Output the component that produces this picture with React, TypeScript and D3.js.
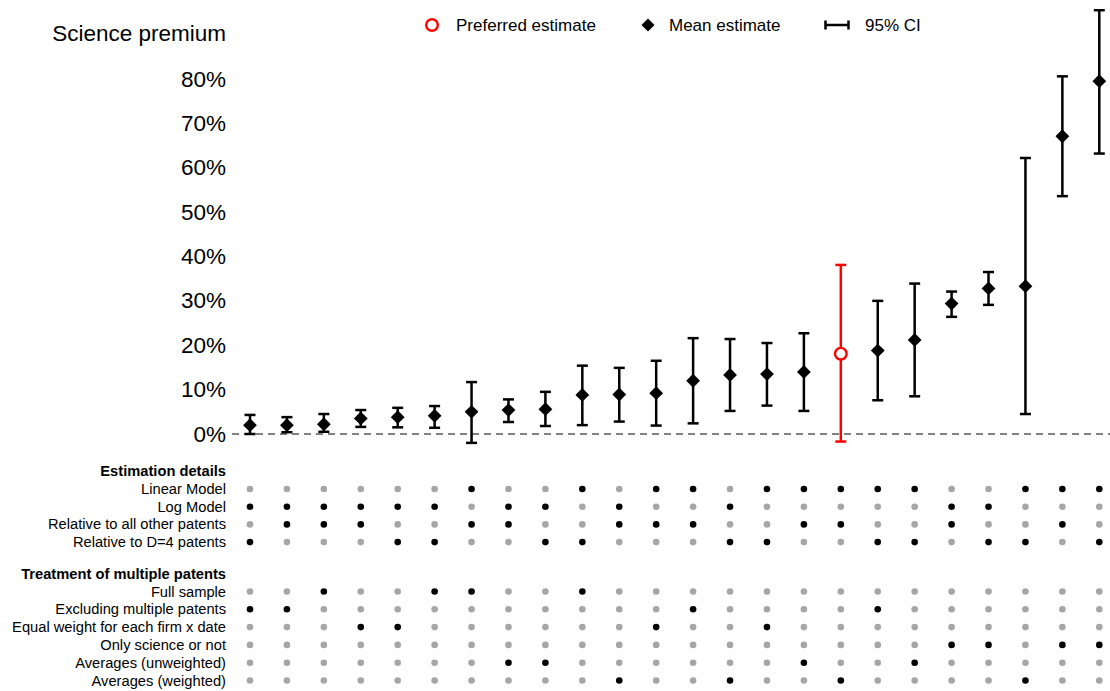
import React from "react";
import * as d3 from "d3";

// ---- Data (percent) ----
const meanEst = [2.0, 2.0, 2.2, 3.5, 3.8, 4.1, 5.0, 5.4, 5.6, 8.8, 8.9, 9.2, 12.0, 13.3, 13.5, 14.0, 18.1, 18.8, 21.2, 29.4, 32.8, 33.3, 67.1, 79.5];
const ciLow = [0.0, 0.4, 0.5, 1.6, 1.5, 1.4, -2.0, 2.7, 1.8, 2.0, 2.8, 1.9, 2.4, 5.2, 6.4, 5.2, -1.7, 7.6, 8.5, 26.4, 29.1, 4.5, 53.6, 63.2];
const ciHigh = [4.3, 3.8, 4.5, 5.4, 5.9, 6.3, 11.7, 7.8, 9.5, 15.4, 14.9, 16.5, 21.6, 21.4, 20.5, 22.7, 38.1, 30.0, 33.9, 32.1, 36.5, 62.2, 80.6, 95.5];
const preferredIndex = 16;
const yTicks = [0, 10, 20, 30, 40, 50, 60, 70, 80];

const estimationLabels = ["Linear Model", "Log Model", "Relative to all other patents", "Relative to D=4 patents"];
const estimationFlags = [
  "000000100101101111100111",
  "111111011010010000011000",
  "011100110011100110010010",
  "100011001100011001101101",
];
const treatmentLabels = [
  "Full sample",
  "Excluding multiple patents",
  "Equal weight for each firm x date",
  "Only science or not",
  "Averages (unweighted)",
  "Averages (weighted)",
];
const treatmentFlags = [
  "001001100100000000000000",
  "110000000000100001000000",
  "000110000001001000000000",
  "000000000000000000011011",
  "000000011000000100100000",
  "000000000010010010000100",
];

const FONT = "'Liberation Sans', Arial, Helvetica, sans-serif";

export default function App() {
  const W = 1110;
  const H = 691;
  const n = meanEst.length;
  const x = d3.scaleLinear().domain([0, n - 1]).range([250, 1099.3]);
  const y = d3.scaleLinear().domain([0, 80]).range([434, 79]);
  const labelX = 226;
  const capW = 5.5;

  const estRowY = (i: number) => 489 + i * 17.7;
  const treatRowY = (i: number) => 591.5 + i * 17.8;

  return (
    <svg width={W} height={H} style={{ position: "absolute", left: 0, top: 0, background: "#fff" }} fontFamily={FONT}>
      {/* Title */}
      <text x={labelX} y={33} textAnchor="end" dominantBaseline="central" fontSize={22.5} fill="#000">
        Science premium
      </text>

      {/* Legend */}
      <circle cx={432} cy={25} r={5.8} fill="none" stroke="#ff0000" strokeWidth={2.4} />
      <text x={456} y={25} dominantBaseline="central" fontSize={17} fill="#000">Preferred estimate</text>
      <path d={d3.symbol().type(d3.symbolSquare).size(85)()!} transform="translate(648,25) rotate(45)" fill="#000" />
      <text x={669} y={25} dominantBaseline="central" fontSize={17} fill="#000">Mean estimate</text>
      <line x1={825} x2={849} y1={25} y2={25} stroke="#000" strokeWidth={2.5} />
      <line x1={825.5} x2={825.5} y1={20.5} y2={29.5} stroke="#000" strokeWidth={2.5} />
      <line x1={848.5} x2={848.5} y1={20.5} y2={29.5} stroke="#000" strokeWidth={2.5} />
      <text x={865} y={25} dominantBaseline="central" fontSize={17} fill="#000">95% CI</text>

      {/* Y tick labels */}
      {yTicks.map((t) => (
        <text key={t} x={labelX} y={y(t)} textAnchor="end" dominantBaseline="central" fontSize={22.5} fill="#000">
          {t}%
        </text>
      ))}

      {/* Zero line */}
      <line x1={232} x2={W} y1={y(0)} y2={y(0)} stroke="#808080" strokeWidth={2} strokeDasharray="7,5" />

      {/* Error bars and points */}
      {meanEst.map((m, i) => {
        const cx = x(i);
        const col = i === preferredIndex ? "#ff0000" : "#000";
        return (
          <g key={i}>
            <line x1={cx} x2={cx} y1={y(ciLow[i])} y2={y(ciHigh[i])} stroke={col} strokeWidth={2.5} />
            <line x1={cx - capW} x2={cx + capW} y1={y(ciLow[i])} y2={y(ciLow[i])} stroke={col} strokeWidth={2.5} />
            <line x1={cx - capW} x2={cx + capW} y1={y(ciHigh[i])} y2={y(ciHigh[i])} stroke={col} strokeWidth={2.5} />
            {i === preferredIndex ? (
              <circle cx={cx} cy={y(m)} r={5.8} fill="#fff" stroke="#ff0000" strokeWidth={2.4} />
            ) : (
              <path d={d3.symbol().type(d3.symbolSquare).size(95)()!} transform={`translate(${cx},${y(m)}) rotate(45)`} fill="#000" />
            )}
          </g>
        );
      })}

      {/* Estimation details matrix */}
      <text x={labelX} y={470.5} textAnchor="end" dominantBaseline="central" fontSize={14.7} fontWeight="bold" fill="#000">
        Estimation details
      </text>
      {estimationLabels.map((lab, r) => (
        <g key={lab}>
          <text x={labelX} y={estRowY(r)} textAnchor="end" dominantBaseline="central" fontSize={14.7} fill="#000">
            {lab}
          </text>
          {estimationFlags[r].split("").map((f, i) => (
            <circle key={i} cx={x(i)} cy={estRowY(r)} r={3.3} fill={f === "1" ? "#000" : "#a6a6a6"} />
          ))}
        </g>
      ))}

      {/* Treatment matrix */}
      <text x={labelX} y={574} textAnchor="end" dominantBaseline="central" fontSize={14.7} fontWeight="bold" fill="#000">
        Treatment of multiple patents
      </text>
      {treatmentLabels.map((lab, r) => (
        <g key={lab}>
          <text x={labelX} y={treatRowY(r)} textAnchor="end" dominantBaseline="central" fontSize={14.7} fill="#000">
            {lab}
          </text>
          {treatmentFlags[r].split("").map((f, i) => (
            <circle key={i} cx={x(i)} cy={treatRowY(r)} r={3.3} fill={f === "1" ? "#000" : "#a6a6a6"} />
          ))}
        </g>
      ))}
    </svg>
  );
}
